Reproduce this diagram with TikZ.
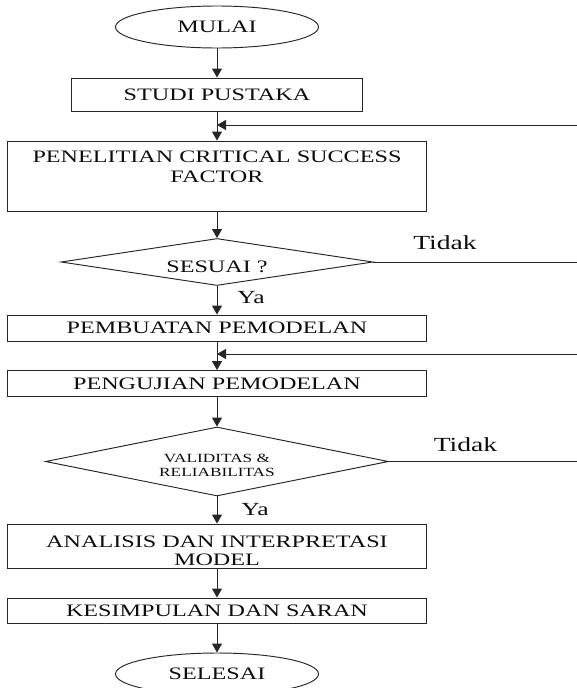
\documentclass[tikz,border=0pt]{standalone}
\usepackage{fontspec}
\setmainfont[FakeStretch=1.38]{Liberation Serif}
\usetikzlibrary{shapes.geometric,arrows.meta}
\newcommand\mainfs{\fontsize{17.5pt}{20pt}\selectfont}
\newcommand\analfs{\fontsize{17.5pt}{18pt}\selectfont}
\newcommand\smallfs{\fontsize{12.5pt}{14pt}\selectfont}
\newcommand\yafs{\fontsize{18.5pt}{20pt}\selectfont}
\newcommand\tidakfs{\fontsize{20pt}{22pt}\selectfont}
\begin{document}
\begin{tikzpicture}[x=1pt,y=-1pt,
  line/.style={draw=black!85, line width=0.95pt},
  arr/.style={line, -{Triangle[length=9pt,width=10pt]}},
  box/.style={line, rectangle, inner sep=0pt, font=\mainfs, text=black!95,
    text height=11.6pt, text depth=0pt},
  term/.style={line, ellipse, inner sep=0pt, font=\mainfs, text=black!95,
    minimum width=203pt, minimum height=42pt},
  dia/.style={line, diamond, inner sep=0pt},
  txt/.style={inner sep=0pt, font=\mainfs, text=black!95, align=center},
  small/.style={inner sep=0pt, font=\smallfs, text=black!95, align=center},
  lab/.style={inner sep=0pt, font=\yafs, text=black!95},
  tdk/.style={inner sep=0pt, font=\tidakfs, text=black!95}]
\clip (0,0) rectangle (577,688);
% nodes
\node[term] (mulai) at (217,27) {MULAI};
\node[box, minimum width=291pt, minimum height=33pt] (studi) at (217,94.5) {STUDI PUSTAKA};
\node[box, minimum width=419pt, minimum height=70pt] (csf) at (217,176) {};
\node[txt] (csftext) at (217,167) {PENELITIAN CRITICAL SUCCESS\\FACTOR};
\node[dia, minimum width=312pt, minimum height=47pt] (sesuai) at (217,262) {};
\node[txt] (sesuaitext) at (217,267) {SESUAI ?};
\node[box, minimum width=419pt, minimum height=26pt] (buat) at (217,328) {PEMBUATAN PEMODELAN};
\node[box, minimum width=419pt, minimum height=26pt] (uji) at (217,383.5) {PENGUJIAN PEMODELAN};
\node[dia, minimum width=343pt, minimum height=69pt] (valid) at (217,461.5) {};
\node[small] (validtext) at (217,465) {VALIDITAS \&\\RELIABILITAS};
\node[box, minimum width=419pt, minimum height=44pt] (anal) at (217,546) {};
\node[txt, font=\analfs] (analtext) at (217,551) {ANALISIS DAN INTERPRETASI\\MODEL};
\node[box, minimum width=419pt, minimum height=25pt] (simpul) at (217,610.5) {KESIMPULAN DAN SARAN};
\node[term] (selesai) at (217,674) {SELESAI};
% labels
\node[lab] (ya1) at (251,298) {Ya};
\node[lab] (ya2) at (255,510) {Ya};
\node[tdk] (tidak1) at (445,243) {Tidak};
\node[tdk] (tidak2) at (465.5,445) {Tidak};
% main flow
\draw[arr] (mulai.south) -- (mulai.south |- studi.north);
\draw[arr] (studi.south) -- (studi.south |- csf.north);
\draw[arr] (csf.south) -- (csf.south |- sesuai.north);
\draw[arr] (sesuai.south) -- (sesuai.south |- buat.north);
\draw[arr] (buat.south) -- (buat.south |- uji.north);
\draw[arr] (uji.south) -- (uji.south |- valid.north);
\draw[arr] (valid.south) -- (valid.south |- anal.north);
\draw[arr] (anal.south) -- (anal.south |- simpul.north);
\draw[arr] (simpul.south) -- (simpul.south |- selesai.north);
% feedback lines
\coordinate (fb1) at (577,125);
\coordinate (fb2) at (577,354);
\coordinate (no1) at (577,262);
\coordinate (no2) at (577,461.5);
\draw[arr] (fb1) -- (fb1 -| studi.south);
\draw[arr] (fb2) -- (fb2 -| buat.south);
\draw[line] (sesuai.east) -- (no1);
\draw[line] (valid.east) -- (no2);
\end{tikzpicture}
\end{document}
